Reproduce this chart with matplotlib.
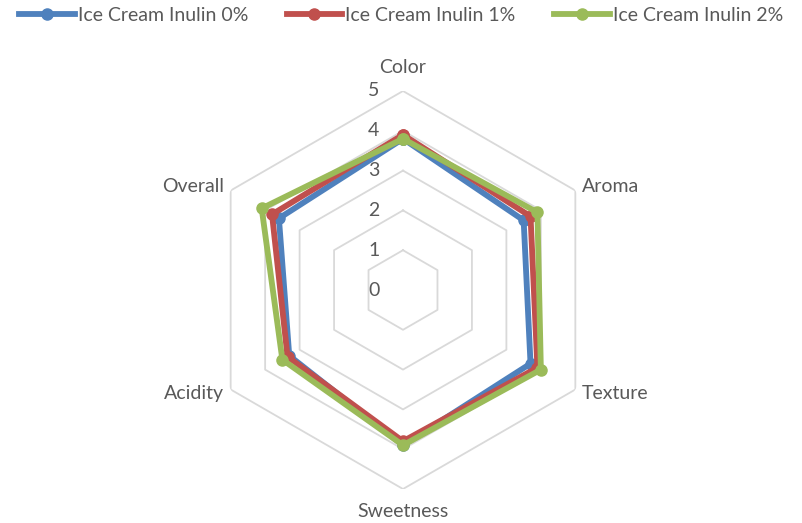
import matplotlib.pyplot as plt
import numpy as np

plt.rcParams['font.family'] = ['Lato', 'DejaVu Sans']

categories = ['Color', 'Aroma', 'Texture', 'Sweetness', 'Acidity', 'Overall']
series_names = ['Ice Cream Inulin 0%', 'Ice Cream Inulin 1%', 'Ice Cream Inulin 2%']
inulin_0 = [3.8, 3.5, 3.7, 3.9, 3.3, 3.6]
inulin_1 = [3.9, 3.7, 3.9, 3.8, 3.35, 3.8]
inulin_2 = [3.8, 3.9, 4.0, 3.9, 3.5, 4.1]
r_ticks = [0, 1, 2, 3, 4, 5]

colors = ['#4F81BD', '#C0504D', '#9BBB59']
text_color = '#595959'
grid_color = '#D9D9D9'


def main():
    fig = plt.figure(figsize=(8.02, 5.23), dpi=100)
    # axes placed so the center sits at (403, 290) px and r=5 spans 199 px
    W, H = 802, 523
    cx, cy, R = 403, 290, 199
    ax = fig.add_axes([(cx - R) / W, (H - cy - R) / H, 2 * R / W, 2 * R / H],
                      projection='polar')
    ax.set_theta_zero_location('N')
    ax.set_theta_direction(-1)
    ax.set_ylim(0, 5)

    n = len(categories)
    angles = np.arange(n) * 2 * np.pi / n
    closed = np.append(angles, angles[0])

    # hexagonal grid
    ax.grid(False)
    ax.spines['polar'].set_visible(False)
    ax.set_xticks([])
    ax.set_yticks([])
    for k in r_ticks[1:]:
        ax.plot(closed, [k] * (n + 1), color=grid_color, lw=1.3, zorder=1)

    for vals, col, name in zip([inulin_0, inulin_1, inulin_2], colors, series_names):
        v = np.append(vals, vals[0])
        ax.plot(closed, v, color=col, lw=4.2, marker='o', markersize=8,
                solid_joinstyle='round', label=name, zorder=3)

    # radial value labels
    for k in r_ticks:
        ax.annotate(str(k), xy=(0, k), xytext=(-17, 0), textcoords='offset points',
                    ha='right', va='center', fontsize=14, color=text_color)

    # category labels
    label_pos = [
        (5.38, 'center', 'bottom'),
        (5.2, 'left', 'center'),
        (5.2, 'left', 'center'),
        (5.35, 'center', 'top'),
        (5.2, 'right', 'center'),
        (5.2, 'right', 'center'),
    ]
    for ang, cat, (r, ha, va) in zip(angles, categories, label_pos):
        ax.text(ang, r, cat, ha=ha, va=va, fontsize=14, color=text_color,
                clip_on=False)

    leg = fig.legend(loc='upper center', bbox_to_anchor=(0.5, 1.02), ncol=3,
                     frameon=False, fontsize=14, handlelength=2.85,
                     columnspacing=2.0, handletextpad=0.15)
    for t in leg.get_texts():
        t.set_color(text_color)

    fig.savefig('out.png', dpi=100)


if __name__ == '__main__':
    main()
